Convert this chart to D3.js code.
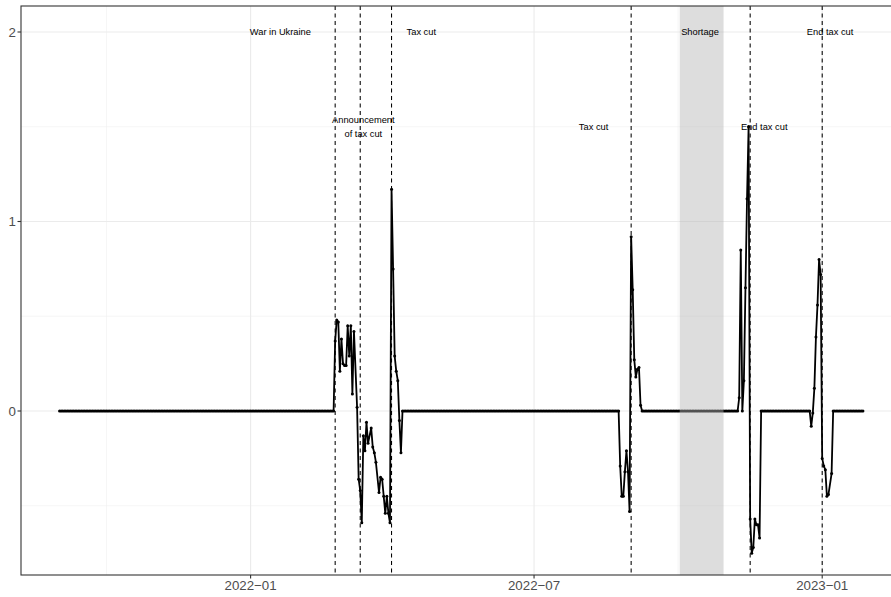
<!DOCTYPE html>
<html><head><meta charset="utf-8">
<script src="https://cdn.jsdelivr.net/npm/d3@7"></script>
<style>body{margin:0;background:#fff}svg{display:block;font-family:"Liberation Sans",Arial,Helvetica,sans-serif}</style>
</head><body><svg id="c" width="891" height="597"></svg>
<script>
// ---- data ----
// Spans where the series sits flat at 0 (one reading per day)
const zeroRunStart = ["2021-09-01","2022-04-08","2022-09-08","2022-11-23","2023-01-08"];
const zeroRunEnd   = ["2022-02-23","2022-08-24","2022-11-08","2022-12-24","2023-01-27"];
// Non-zero episodes
const episodeDates = [
  "2022-02-24","2022-02-25","2022-02-26","2022-02-27","2022-02-28","2022-03-01","2022-03-02","2022-03-03",
  "2022-03-04","2022-03-05","2022-03-06","2022-03-07","2022-03-08","2022-03-10","2022-03-11","2022-03-12",
  "2022-03-13","2022-03-14","2022-03-15","2022-03-16","2022-03-17","2022-03-19","2022-03-20","2022-03-21",
  "2022-03-22","2022-03-24","2022-03-25","2022-03-26","2022-03-27","2022-03-28","2022-03-29","2022-03-30",
  "2022-03-31","2022-04-01","2022-04-02","2022-04-03","2022-04-04","2022-04-05","2022-04-06","2022-04-07",
  "2022-08-25","2022-08-26","2022-08-27","2022-08-28","2022-08-29","2022-08-30","2022-08-31","2022-09-01",
  "2022-09-02","2022-09-03","2022-09-04","2022-09-05","2022-09-06","2022-09-07",
  "2022-11-09","2022-11-10","2022-11-11","2022-11-12","2022-11-13","2022-11-14","2022-11-15","2022-11-16",
  "2022-11-17","2022-11-18","2022-11-19","2022-11-20","2022-11-21","2022-11-22",
  "2022-12-25","2022-12-26","2022-12-27","2022-12-28","2022-12-29","2022-12-30","2022-12-31","2023-01-01",
  "2023-01-02","2023-01-03","2023-01-04","2023-01-05","2023-01-07"
];
const episodeValues = [
  0.37,0.48,0.47,0.21,0.38,0.25,0.24,0.24,
  0.45,0.29,0.45,0.09,0.42,0.02,-0.36,-0.42,
  -0.59,-0.13,-0.21,-0.06,-0.17,-0.09,-0.19,-0.22,
  -0.27,-0.43,-0.35,-0.36,-0.45,-0.54,-0.45,-0.54,
  -0.59,1.17,0.75,0.29,0.21,0.16,-0.05,-0.22,
  -0.29,-0.45,-0.45,-0.32,-0.21,-0.32,-0.53,0.92,
  0.64,0.27,0.18,0.22,0.23,0.03,
  0.07,0.85,0.00,0.16,0.65,1.12,1.50,-0.57,
  -0.75,-0.72,-0.57,-0.60,-0.60,-0.67,
  -0.08,-0.01,0.12,0.39,0.56,0.80,0.72,-0.25,
  -0.29,-0.31,-0.45,-0.44,-0.33
];
const eventDates = ["2022-02-24","2022-03-12","2022-04-01","2022-09-01","2022-11-16","2023-01-01"];
const shortageStart = "2022-10-02", shortageEnd = "2022-10-30";
const labelTexts  = ["War in Ukraine","Announcement\nof tax cut","Tax cut","Tax cut","Shortage","End tax cut","End tax cut"];
const labelDates  = ["2022-01-20","2022-03-14","2022-04-20","2022-08-08","2022-10-15","2022-11-25","2023-01-06"];
const labelValues = [2,1.5,2,1.5,2,1.5,2];
const xTickDates  = ["2022-01-01","2022-07-01","2023-01-01"];
const xTickLabels = ["2022\u221201","2022\u221207","2023\u221201"];
const xMinorDates = ["2021-10-01","2022-04-01","2022-10-01"];
const yTicks = [0,1,2];
const yMinor = [-0.5,0.5,1.5];

// ---- build series ----
const P = d3.utcParse("%Y-%m-%d");
const series = [];
zeroRunStart.forEach((s,i)=>{
  d3.utcDay.range(P(s), d3.utcDay.offset(P(zeroRunEnd[i]),1)).forEach(d=>series.push({d, v:0}));
});
episodeDates.forEach((s,i)=>series.push({d:P(s), v:episodeValues[i]}));
series.sort((a,b)=>a.d-b.d);

// ---- layout ----
const L=21, R=903, T=6, B=575;
const x = d3.scaleUtc().domain([P("2022-01-01"), P("2023-01-01")]).range([250.6, 822.2]);
const y = d3.scaleLinear().domain([0,2]).range([411,32]);

const svg = d3.select("#c");
svg.append("defs").append("clipPath").attr("id","clip")
  .append("rect").attr("x",L).attr("y",T).attr("width",R-L).attr("height",B-T);
const g = svg.append("g").attr("clip-path","url(#clip)");
g.append("rect").attr("x",L).attr("y",T).attr("width",R-L).attr("height",B-T).attr("fill","#fff");

// grid
g.selectAll(".ym").data(yMinor).join("line").attr("x1",L).attr("x2",R)
  .attr("y1",d=>y(d)).attr("y2",d=>y(d)).attr("stroke","#f0f0f0").attr("stroke-width",0.6);
g.selectAll(".xm").data(xMinorDates).join("line").attr("y1",T).attr("y2",B)
  .attr("x1",d=>x(P(d))).attr("x2",d=>x(P(d))).attr("stroke","#f0f0f0").attr("stroke-width",0.6);
g.selectAll(".yM").data(yTicks).join("line").attr("x1",L).attr("x2",R)
  .attr("y1",d=>y(d)).attr("y2",d=>y(d)).attr("stroke","#ebebeb").attr("stroke-width",1.1);
g.selectAll(".xM").data(xTickDates).join("line").attr("y1",T).attr("y2",B)
  .attr("x1",d=>x(P(d))).attr("x2",d=>x(P(d))).attr("stroke","#ebebeb").attr("stroke-width",1.1);

// data line + points
g.append("path").datum(series)
  .attr("d", d3.line().x(d=>x(d.d)).y(d=>y(d.v)))
  .attr("fill","none").attr("stroke","#000").attr("stroke-width",1.8).attr("stroke-linejoin","round");
g.selectAll(".pt").data(series).join("circle")
  .attr("cx",d=>x(d.d)).attr("cy",d=>y(d.v)).attr("r",1.5).attr("fill","#000");

// shortage band
g.append("rect").attr("x",x(P(shortageStart))).attr("width",x(P(shortageEnd))-x(P(shortageStart)))
  .attr("y",T).attr("height",B-T).attr("fill","#b3b3b3").attr("fill-opacity",0.45);

// event lines
g.selectAll(".ev").data(eventDates).join("line")
  .attr("x1",d=>x(P(d))).attr("x2",d=>x(P(d))).attr("y1",T).attr("y2",B)
  .attr("stroke","#000").attr("stroke-width",1.05).attr("stroke-dasharray","4,3.5");

// labels
labelTexts.forEach((t,i)=>{
  const lines = t.split("\n");
  const cx = x(P(labelDates[i])), cy = y(labelValues[i]);
  const lh = 14;
  const tx = g.append("text").attr("text-anchor","middle").attr("font-size",9.3).attr("fill","#000");
  lines.forEach((ln,j)=>{
    tx.append("tspan").attr("x",cx).attr("y", cy + (j-(lines.length-1)/2)*lh).attr("dy","0.35em").text(ln);
  });
});

// panel border
svg.append("rect").attr("x",L).attr("y",T).attr("width",R-L).attr("height",B-T)
  .attr("fill","none").attr("stroke","#333").attr("stroke-width",1.1);

// axes
const ax = svg.append("g");
ax.selectAll(".yt").data(yTicks).join("line").attr("x1",L-3.5).attr("x2",L)
  .attr("y1",d=>y(d)).attr("y2",d=>y(d)).attr("stroke","#333").attr("stroke-width",1.1);
ax.selectAll(".yl").data(yTicks).join("text").attr("x",L-5).attr("y",d=>y(d)).attr("dy","0.36em")
  .attr("text-anchor","end").attr("font-size",13.3).attr("fill","#4d4d4d").text(d=>d);
ax.selectAll(".xt").data(xTickDates).join("line").attr("y1",B).attr("y2",B+3.5)
  .attr("x1",d=>x(P(d))).attr("x2",d=>x(P(d))).attr("stroke","#333").attr("stroke-width",1.1);
ax.selectAll(".xl").data(xTickDates).join("text").attr("x",d=>x(P(d))).attr("y",B+5).attr("dy","0.72em")
  .attr("text-anchor","middle").attr("font-size",13.3).attr("fill","#4d4d4d").text((d,i)=>xTickLabels[i]);
</script></body></html>
